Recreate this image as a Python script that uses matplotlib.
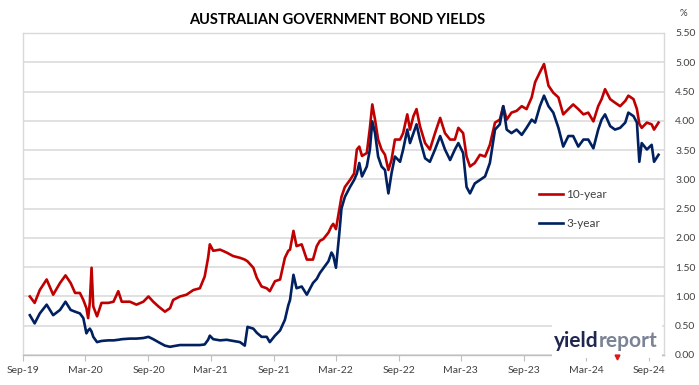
import matplotlib
matplotlib.use("Agg")
import matplotlib.pyplot as plt
import matplotlib.dates as mdates
from matplotlib.patches import Rectangle
import pandas as pd

plt.rcParams['font.family'] = ['Lato', 'DejaVu Sans']

# values (dates, 10-year and 3-year yields, %)
dates = [
    "2019-09-21", "2019-10-05", "2019-10-20", "2019-11-09", "2019-11-28", "2019-12-18",
    "2020-01-03", "2020-01-18", "2020-01-31", "2020-02-14", "2020-02-24", "2020-03-04",
    "2020-03-09", "2020-03-14", "2020-03-19", "2020-03-24", "2020-04-04", "2020-04-17",
    "2020-05-07", "2020-05-22", "2020-06-05", "2020-06-15", "2020-07-09", "2020-07-28",
    "2020-08-17", "2020-09-01", "2020-09-15", "2020-09-30", "2020-10-19", "2020-11-03",
    "2020-11-12", "2020-12-02", "2020-12-21", "2021-01-10", "2021-01-29", "2021-02-12",
    "2021-02-22", "2021-02-27", "2021-03-09", "2021-03-29", "2021-04-17", "2021-05-06",
    "2021-05-26", "2021-06-09", "2021-06-17", "2021-07-04", "2021-07-14", "2021-07-28",
    "2021-08-12", "2021-08-21", "2021-09-05", "2021-09-20", "2021-10-04", "2021-10-14",
    "2021-10-19", "2021-10-29", "2021-11-07", "2021-11-22", "2021-12-07", "2021-12-25",
    "2022-01-05", "2022-01-14", "2022-01-24", "2022-02-08", "2022-02-17", "2022-02-22",
    "2022-03-02", "2022-03-12", "2022-03-18", "2022-03-28", "2022-04-12", "2022-04-24",
    "2022-05-02", "2022-05-09", "2022-05-17", "2022-05-31", "2022-06-09", "2022-06-16",
    "2022-06-24", "2022-07-03", "2022-07-13", "2022-07-23", "2022-08-02", "2022-08-11",
    "2022-08-21", "2022-09-05", "2022-09-14", "2022-09-26", "2022-10-04", "2022-10-14",
    "2022-10-23", "2022-11-02", "2022-11-17", "2022-12-01", "2022-12-16", "2022-12-31",
    "2023-01-14", "2023-01-29", "2023-02-12", "2023-02-22", "2023-03-08", "2023-03-18",
    "2023-03-28", "2023-04-11", "2023-04-26", "2023-05-11", "2023-05-25", "2023-06-09",
    "2023-06-23", "2023-07-03", "2023-07-13", "2023-07-27", "2023-08-11", "2023-08-26",
    "2023-09-09", "2023-09-24", "2023-10-04", "2023-10-18", "2023-10-30", "2023-11-12",
    "2023-11-26", "2023-12-11", "2023-12-25", "2024-01-09", "2024-01-23", "2024-02-07",
    "2024-02-22", "2024-03-07", "2024-03-22", "2024-04-05", "2024-04-15", "2024-04-25",
    "2024-05-10", "2024-05-24", "2024-06-08", "2024-06-23", "2024-07-02", "2024-07-17",
    "2024-07-27", "2024-08-03", "2024-08-10", "2024-08-25", "2024-09-08", "2024-09-15",
    "2024-09-28",
]
ten_year = [
    1.00, 0.89, 1.11, 1.29, 1.03, 1.23,
    1.36, 1.23, 1.06, 1.06, 0.94, 0.80,
    0.63, 0.90, 1.49, 0.83, 0.66, 0.89,
    0.89, 0.91, 1.09, 0.91, 0.91, 0.86,
    0.91, 1.00, 0.91, 0.83, 0.74, 0.80,
    0.94, 1.00, 1.03, 1.11, 1.14, 1.34,
    1.66, 1.89, 1.78, 1.80, 1.75, 1.69,
    1.66, 1.63, 1.60, 1.49, 1.32, 1.17,
    1.14, 1.09, 1.26, 1.29, 1.66, 1.78,
    1.80, 2.12, 1.86, 1.89, 1.63, 1.63,
    1.86, 1.95, 1.98, 2.09, 2.20, 2.24,
    2.15, 2.49, 2.70, 2.87, 2.99, 3.10,
    3.51, 3.56, 3.40, 3.45, 3.88, 4.28,
    4.02, 3.68, 3.51, 3.42, 3.16, 3.33,
    3.68, 3.68, 3.79, 4.11, 3.85, 4.08,
    4.20, 3.91, 3.62, 3.51, 3.79, 4.05,
    3.79, 3.68, 3.68, 3.88, 3.79, 3.39,
    3.22, 3.28, 3.42, 3.39, 3.59, 3.97,
    4.02, 4.25, 4.02, 4.14, 4.17, 4.25,
    4.20, 4.40, 4.66, 4.83, 4.97, 4.60,
    4.48, 4.40, 4.11, 4.20, 4.28, 4.20,
    4.11, 4.14, 3.99, 4.25, 4.37, 4.54,
    4.37, 4.31, 4.25, 4.34, 4.43, 4.37,
    4.20, 3.95, 3.88, 3.97, 3.94, 3.85,
    3.97,
]
three_year = [
    0.68, 0.54, 0.71, 0.86, 0.68, 0.77,
    0.91, 0.77, 0.74, 0.71, 0.63, 0.37,
    0.42, 0.45, 0.40, 0.31, 0.22, 0.24,
    0.25, 0.25, 0.26, 0.27, 0.28, 0.28,
    0.29, 0.31, 0.27, 0.22, 0.16, 0.14,
    0.15, 0.17, 0.17, 0.17, 0.17, 0.18,
    0.26, 0.33, 0.27, 0.25, 0.26, 0.24,
    0.22, 0.16, 0.48, 0.45, 0.38, 0.31,
    0.31, 0.22, 0.33, 0.42, 0.60, 0.85,
    0.94, 1.37, 1.14, 1.17, 1.03, 1.23,
    1.30, 1.40, 1.48, 1.60, 1.75, 1.70,
    1.49, 2.09, 2.50, 2.70, 2.87, 2.99,
    3.10, 3.28, 3.05, 3.22, 3.51, 3.99,
    3.79, 3.39, 3.22, 3.16, 2.76, 3.10,
    3.39, 3.30, 3.51, 3.85, 3.62, 3.79,
    3.94, 3.68, 3.36, 3.30, 3.51, 3.74,
    3.51, 3.33, 3.51, 3.62, 3.45, 2.87,
    2.76, 2.93, 2.99, 3.05, 3.28, 3.85,
    3.94, 4.25, 3.85, 3.79, 3.85, 3.76,
    3.88, 4.02, 3.97, 4.25, 4.43, 4.25,
    4.14, 3.88, 3.56, 3.74, 3.74, 3.56,
    3.68, 3.68, 3.53, 3.85, 4.02, 4.11,
    3.91, 3.85, 3.88, 3.97, 4.14, 4.08,
    3.97, 3.30, 3.62, 3.51, 3.59, 3.30,
    3.42,
]
series_labels = ["10-year", "3-year"]

x = pd.to_datetime(dates)

fig = plt.figure(figsize=(6.99, 3.85), dpi=100)
ax = fig.add_axes([23/699, 30/385, 641/699, 322/385])

ax.plot(x, ten_year, color="#C00000", lw=1.9, label=series_labels[0])
ax.plot(x, three_year, color="#002060", lw=1.9, label=series_labels[1])

ax.set_ylim(0, 5.5)
ax.set_yticks([i * 0.5 for i in range(12)])
ax.yaxis.set_major_formatter(plt.FormatStrFormatter('%.2f'))
ax.yaxis.tick_right()
ax.tick_params(axis='y', length=0, pad=8, labelsize=7.5, labelcolor="#404040")
ax.grid(axis='y', color="#D9D9D9", lw=1.1)
ax.set_axisbelow(True)

ax.set_xlim(pd.Timestamp("2019-09-01"), pd.Timestamp("2024-10-14"))
ax.xaxis.set_major_locator(mdates.MonthLocator(bymonth=[3, 9]))
ax.xaxis.set_major_formatter(mdates.DateFormatter('%b-%y'))
ax.tick_params(axis='x', length=4, color="#BFBFBF", pad=4, labelsize=7.5, labelcolor="#404040")

for s in ax.spines.values():
    s.set_color("#D9D9D9")
    s.set_linewidth(1.0)
ax.spines['bottom'].set_color("#BFBFBF")

fig.text(337/699, 1 - 20/385, "AUSTRALIAN GOVERNMENT BOND YIELDS", ha='center', va='center',
         fontsize=10.5, fontweight='bold', color="#000000")
fig.text(683/699, 1 - 13/385, "%", ha='center', va='center', fontsize=7, color="#404040")

ax.legend(loc='center left', bbox_to_anchor=(0.805, 0.453), frameon=False,
          fontsize=8.5, labelspacing=1.5, handlelength=2.0, handletextpad=0.3,
          borderpad=0, borderaxespad=0, labelcolor="#404040")

# logo on a white patch
ax.add_patch(Rectangle((0.825, -0.008), 0.172, 0.122, transform=ax.transAxes,
                       facecolor='white', edgecolor='none', zorder=9, clip_on=False))
logo = ax.text(0.828, 0.025, "yield", transform=ax.transAxes, ha='left', va='baseline',
               fontsize=15, fontweight='bold', color="#1F2650", zorder=10)
fig.canvas.draw()
bb = logo.get_window_extent()
inv = ax.transAxes.inverted()
x1 = inv.transform((bb.x1, bb.y0))[0]
ax.text(x1, 0.025, "report", transform=ax.transAxes, ha='left', va='baseline',
        fontsize=15, fontweight='bold', color="#7A8494", zorder=10)
ax.plot([0.926], [-0.005], marker='v', ms=3.5, color="#E0161B", transform=ax.transAxes,
        zorder=11, clip_on=False)

fig.savefig("out.png", dpi=100)
